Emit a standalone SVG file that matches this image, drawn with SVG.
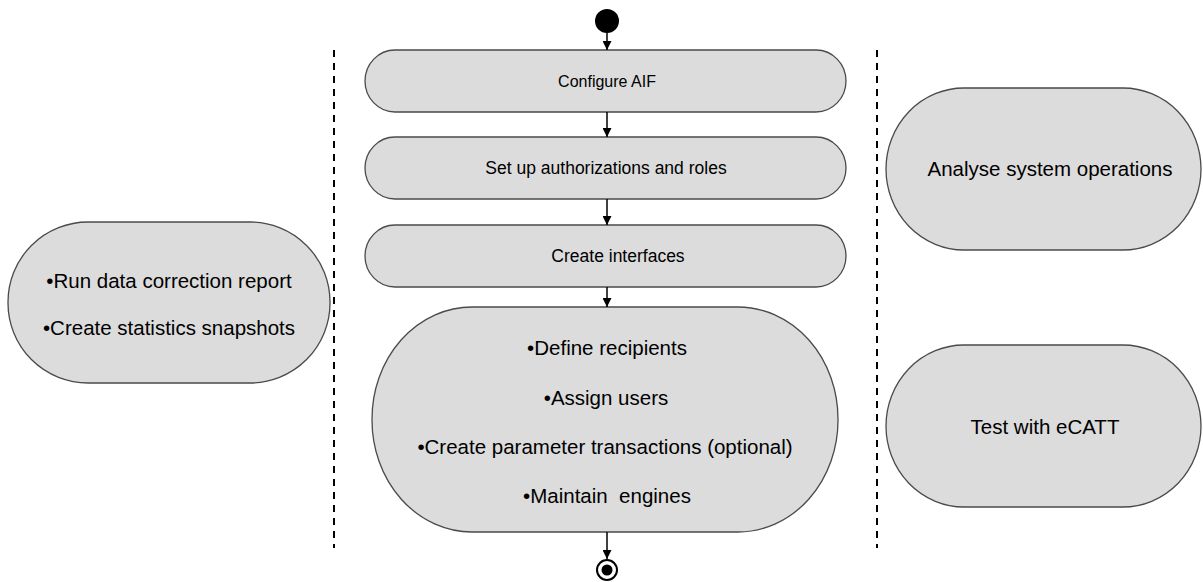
<svg xmlns="http://www.w3.org/2000/svg" width="1203" height="582" viewBox="0 0 1203 582">
<defs>
<style>
.n{fill:#dcdcdc;stroke:#4a4a4a;stroke-width:1.3}
.t{font-family:"Liberation Sans",Arial,sans-serif;font-size:17.5px;fill:#000;text-anchor:middle;dominant-baseline:central}
.b{font-size:20.5px}
.c{stroke:#000;stroke-width:1.5;fill:none}
.d{stroke:#000;stroke-width:2;stroke-dasharray:7,6;fill:none}
</style>
<marker id="ah" viewBox="0 0 10 10" refX="10" refY="5" markerWidth="9" markerHeight="9" markerUnits="userSpaceOnUse" orient="auto">
<path d="M0,0 L10,5 L0,10 z" fill="#000"/>
</marker>
</defs>
<g id="lanes">
<line class="d" x1="334" y1="50" x2="334" y2="548"/>
<line class="d" x1="877" y1="50" x2="877" y2="548"/>
</g>
<g id="start"><circle cx="607" cy="21" r="12" fill="#000"/></g>
<g id="n1"><rect class="n" x="365" y="50" width="481" height="62" rx="30" ry="31"/><text class="t" x="607" y="81" style="font-size:16px">Configure AIF</text></g>
<g id="n2"><rect class="n" x="365" y="137" width="481" height="62" rx="30" ry="31"/><text class="t" x="606" y="168">Set up authorizations and roles</text></g>
<g id="n3"><rect class="n" x="365" y="225" width="481" height="62" rx="30" ry="31"/><text class="t" x="618" y="256">Create interfaces</text></g>
<g id="n4"><rect class="n" x="372" y="307" width="466" height="225" rx="100" ry="112"/>
<text class="t b" x="607" y="347">•Define recipients</text>
<text class="t b" x="606" y="397">•Assign users</text>
<text class="t b" x="605" y="446">•Create parameter transactions (optional)</text>
<text class="t b" x="607" y="495" xml:space="preserve">•Maintain  engines</text></g>
<g id="end"><circle cx="607" cy="570" r="10" fill="#fff" stroke="#000" stroke-width="2"/><circle cx="607" cy="570" r="5.5" fill="#000"/></g>
<g id="n5"><rect class="n" x="8" y="222" width="322" height="161" rx="80" ry="80"/>
<text class="t b" x="169" y="280">•Run data correction report</text>
<text class="t b" x="169" y="327">•Create statistics snapshots</text></g>
<g id="n6"><rect class="n" x="886" y="88" width="315" height="162" rx="78" ry="81"/><text class="t b" x="1050" y="168">Analyse system operations</text></g>
<g id="n7"><rect class="n" x="886" y="345" width="315" height="162" rx="78" ry="81"/><text class="t b" x="1045" y="426">Test with eCATT</text></g>
<g id="connectors">
<line class="c" x1="607" y1="33" x2="607" y2="50" marker-end="url(#ah)"/>
<line class="c" x1="607" y1="112" x2="607" y2="137" marker-end="url(#ah)"/>
<line class="c" x1="607" y1="199" x2="607" y2="225" marker-end="url(#ah)"/>
<line class="c" x1="607" y1="287" x2="607" y2="307" marker-end="url(#ah)"/>
<line class="c" x1="607" y1="532" x2="607" y2="559" marker-end="url(#ah)"/>
</g>
</svg>
